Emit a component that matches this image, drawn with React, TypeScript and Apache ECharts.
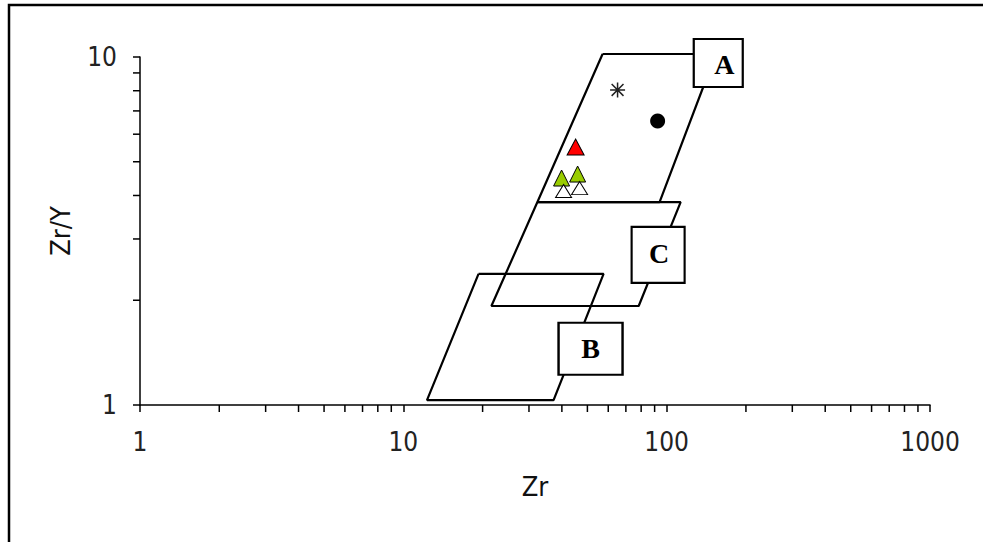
import React, { useEffect, useRef } from "react";
import * as echarts from "echarts";

// Field outlines (Zr, Zr/Y), closed polygons
const fieldA: number[][] = [[57.1, 10.2], [153.6, 10.2], [94.0, 3.83], [32.3, 3.83], [57.1, 10.2]];
const fieldC: number[][] = [[32.3, 3.83], [113, 3.83], [78.3, 1.925], [21.6, 1.925], [32.3, 3.83]];
const fieldB: number[][] = [[19.3, 2.38], [57.6, 2.38], [37.2, 1.033], [12.3, 1.033], [19.3, 2.38]];

// Field label anchors
const fieldNames = ["A", "C", "B"];
const fieldAnchors: number[][] = [[157, 9.61], [92.8, 2.7], [51.4, 1.45]];

// Samples
const asteriskPts: number[][] = [[65.1, 8.04]];
const circlePts: number[][] = [[92.4, 6.55]];
const redTriPts: number[][] = [[45.1, 5.51]];
const greenTriPts: number[][] = [[39.9, 4.49], [45.9, 4.61]];
const whiteTriPts: number[][] = [[40.6, 4.12], [46.7, 4.2]];

// Axis ticks
const xMinor = [2, 3, 4, 5, 6, 7, 8, 9, 20, 30, 40, 50, 60, 70, 80, 90, 200, 300, 400, 500, 600, 700, 800, 900];
const yMinor = [2, 3, 4, 5, 6, 7, 8, 9];

const FONT = "'DejaVu Sans Condensed', 'Liberation Sans', sans-serif";
const SERIF = "'Liberation Serif', 'DejaVu Serif', serif";
const ASTERISK =
  "path://M9,0h2v20h-2z M0,9h20v2h-20z M1.4,2.8L2.8,1.4L18.6,17.2L17.2,18.6z M17.2,1.4L18.6,2.8L2.8,18.6L1.4,17.2z";

export default function App() {
  const ref = useRef<HTMLDivElement>(null);
  useEffect(() => {
    document.body.style.margin = "0";
    const chart = echarts.init(ref.current!, null, { renderer: "svg" });
    const polyStyle = { color: "#000", width: 2.2 };
    const boxSizes = [[49, 48], [53, 56], [64, 52]];
    const boxOffsets = [[6, 1], [1, -1], [0, 0]];
    const boxLabel = {
      show: true,
      position: "inside",
      fontFamily: SERIF,
      fontWeight: "bold",
      fontSize: 28,
      color: "#000",
    };
    chart.setOption({
      animation: false,
      backgroundColor: "#fff",
      grid: { left: 140, right: 53, top: 57, bottom: 137 },
      xAxis: {
        type: "log",
        logBase: 10,
        min: 1,
        max: 1000,
        name: "Zr",
        nameLocation: "middle",
        nameGap: 68,
        nameTextStyle: { fontFamily: FONT, fontSize: 27, color: "#111" },
        axisLine: { lineStyle: { color: "#000", width: 1.5 } },
        axisTick: { show: true, length: 7, lineStyle: { color: "#000", width: 1.5 } },
        axisLabel: {
          fontFamily: FONT,
          fontSize: 26,
          color: "#222",
          margin: 24,
          formatter: (v: number) => String(Math.round(v)),
        },
        splitLine: { show: false },
        minorTick: { show: false },
      },
      yAxis: {
        type: "log",
        logBase: 10,
        min: 1,
        max: 10,
        name: "Zr/Y",
        nameLocation: "middle",
        nameGap: 66,
        nameTextStyle: { fontFamily: FONT, fontSize: 27, color: "#111" },
        axisLine: { lineStyle: { color: "#000", width: 1.5 } },
        axisTick: { show: true, length: 7, lineStyle: { color: "#000", width: 1.5 } },
        axisLabel: {
          fontFamily: FONT,
          fontSize: 26,
          color: "#222",
          margin: 23,
          formatter: (v: number) => String(Math.round(v)),
        },
        splitLine: { show: false },
      },
      graphic: [
        {
          type: "polyline",
          shape: { points: [[9, 542], [9, 5], [983, 5]] },
          style: { stroke: "#000", lineWidth: 2.5, fill: "none" },
          silent: true,
        },
      ],
      series: [
        {
          type: "custom",
          coordinateSystem: "cartesian2d",
          clip: false,
          silent: true,
          data: xMinor.map((v) => [v, 1]),
          renderItem: (params: any, api: any) => {
            const p = api.coord([api.value(0), 1]);
            return {
              type: "line",
              shape: { x1: p[0], y1: p[1], x2: p[0], y2: p[1] + 7 },
              style: { stroke: "#000", lineWidth: 1.5 },
            };
          },
        },
        {
          type: "custom",
          coordinateSystem: "cartesian2d",
          clip: false,
          silent: true,
          data: yMinor.map((v) => [1, v]),
          renderItem: (params: any, api: any) => {
            const p = api.coord([1, api.value(1)]);
            return {
              type: "line",
              shape: { x1: p[0], y1: p[1], x2: p[0] - 7, y2: p[1] },
              style: { stroke: "#000", lineWidth: 1.5 },
            };
          },
        },
        ...[fieldA, fieldC, fieldB].map((d) => ({
          type: "line",
          data: d,
          clip: false,
          symbol: "none",
          lineStyle: polyStyle,
          silent: true,
          z: 3,
        })),
        {
          type: "scatter",
          clip: false,
          z: 5,
          silent: true,
          data: fieldNames.map((n, i) => ({
            name: n,
            value: fieldAnchors[i],
            symbolSize: boxSizes[i],
            label: { ...boxLabel, formatter: n, offset: boxOffsets[i] },
          })),
          symbol: "rect",
          itemStyle: { color: "#fff", borderColor: "#000", borderWidth: 2.2, opacity: 1 },
          label: boxLabel,
        },
        {
          type: "scatter",
          z: 6,
          data: asteriskPts,
          symbol: ASTERISK,
          symbolSize: 15,
          itemStyle: { color: "#222", opacity: 1 },
        },
        {
          type: "scatter",
          z: 6,
          data: circlePts,
          symbol: "circle",
          symbolSize: 15,
          itemStyle: { color: "#000", opacity: 1 },
        },
        {
          type: "scatter",
          z: 6,
          data: redTriPts,
          symbol: "triangle",
          symbolSize: [17, 16],
          itemStyle: { color: "#ff0000", borderColor: "#000", borderWidth: 1, opacity: 1 },
        },
        {
          type: "scatter",
          z: 6,
          data: greenTriPts,
          symbol: "triangle",
          symbolSize: [16, 16],
          itemStyle: { color: "#99cc00", borderColor: "#000", borderWidth: 1, opacity: 1 },
        },
        {
          type: "scatter",
          z: 7,
          data: whiteTriPts,
          symbol: "triangle",
          symbolSize: [16, 13],
          itemStyle: { color: "#fff", borderColor: "#000", borderWidth: 1, opacity: 1 },
        },
      ],
    });
    return () => chart.dispose();
  }, []);
  return <div ref={ref} style={{ width: 983, height: 542 }} />;
}
